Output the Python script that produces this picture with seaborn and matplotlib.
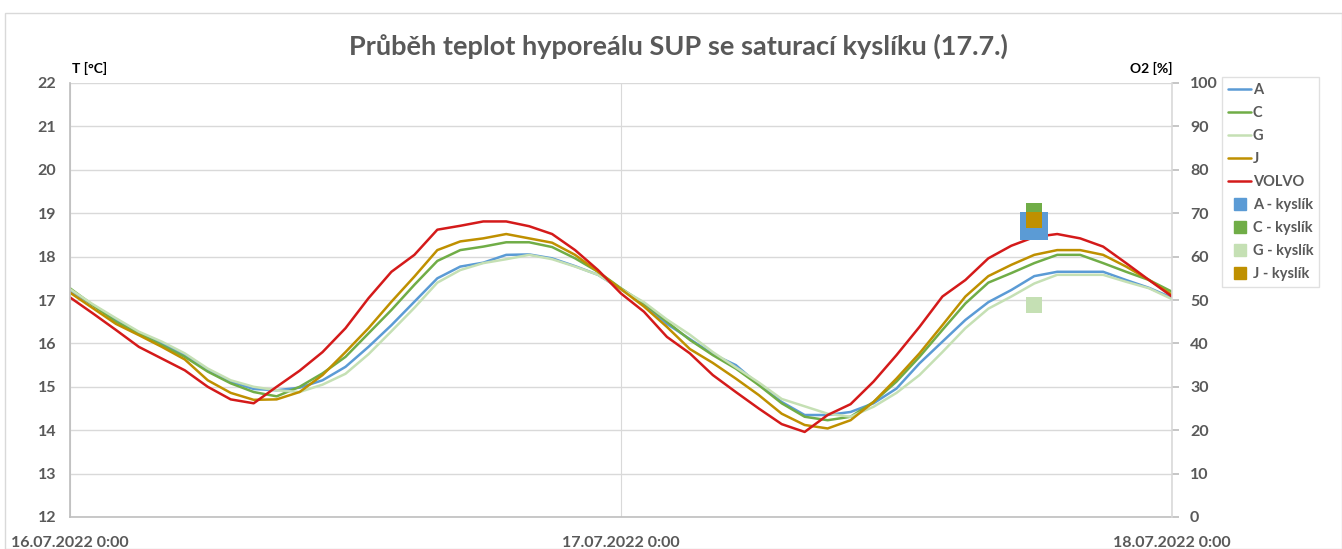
import numpy as np
import pandas as pd
import matplotlib
matplotlib.use("Agg")
import matplotlib.pyplot as plt
from matplotlib.lines import Line2D
from matplotlib.patches import Rectangle
import seaborn as sns

# ---------------- data ----------------
start = "2022-07-16 00:00"
n_hours = 49
series_names = ["A", "C", "G", "J", "VOLVO"]

temp_A = [17.22, 16.88, 16.55, 16.25, 16.0, 15.72, 15.38, 15.12, 14.95, 14.92, 14.98, 15.15,
          15.46, 15.92, 16.42, 16.96, 17.5, 17.77, 17.86, 18.04, 18.05, 17.96, 17.78, 17.58,
          17.25, 16.9, 16.45, 16.1, 15.75, 15.5, 15.05, 14.65, 14.35, 14.35, 14.42, 14.62,
          14.96, 15.54, 16.04, 16.54, 16.95, 17.23, 17.55, 17.65, 17.65, 17.65, 17.46, 17.28, 17.05]
temp_C = [17.27, 16.88, 16.5, 16.23, 15.96, 15.69, 15.35, 15.08, 14.88, 14.78, 15.0, 15.31,
          15.69, 16.23, 16.77, 17.35, 17.9, 18.15, 18.23, 18.33, 18.33, 18.22, 17.96, 17.65,
          17.27, 16.92, 16.5, 16.08, 15.73, 15.42, 15.04, 14.62, 14.31, 14.23, 14.31, 14.65,
          15.12, 15.69, 16.31, 16.92, 17.4, 17.62, 17.85, 18.04, 18.04, 17.85, 17.65, 17.46, 17.19]
temp_G = [17.25, 16.9, 16.58, 16.27, 16.04, 15.77, 15.42, 15.15, 15.0, 14.92, 14.88, 15.05,
          15.3, 15.75, 16.28, 16.82, 17.4, 17.69, 17.85, 17.94, 18.04, 17.94, 17.77, 17.58,
          17.25, 16.95, 16.55, 16.2, 15.8, 15.45, 15.1, 14.72, 14.55, 14.38, 14.31, 14.54,
          14.86, 15.27, 15.8, 16.35, 16.8, 17.08, 17.38, 17.58, 17.58, 17.58, 17.42, 17.27, 17.02]
temp_J = [17.17, 16.81, 16.45, 16.19, 15.92, 15.63, 15.15, 14.86, 14.7, 14.71, 14.88, 15.27,
          15.8, 16.35, 16.96, 17.54, 18.15, 18.35, 18.42, 18.52, 18.42, 18.32, 18.04, 17.65,
          17.25, 16.85, 16.38, 15.87, 15.55, 15.19, 14.81, 14.38, 14.12, 14.04, 14.23, 14.65,
          15.19, 15.77, 16.42, 17.08, 17.55, 17.81, 18.04, 18.15, 18.15, 18.04, 17.77, 17.46, 17.12]
temp_VOLVO = [17.06, 16.69, 16.31, 15.92, 15.65, 15.38, 15.0, 14.71, 14.62, 15.0, 15.37, 15.8,
              16.35, 17.04, 17.65, 18.04, 18.62, 18.71, 18.81, 18.81, 18.7, 18.52, 18.15, 17.69,
              17.15, 16.73, 16.15, 15.77, 15.27, 14.88, 14.5, 14.14, 13.96, 14.35, 14.6, 15.12,
              15.73, 16.38, 17.08, 17.46, 17.96, 18.25, 18.45, 18.52, 18.42, 18.23, 17.85, 17.46, 17.08]

o2_names = ["A - kyslík", "C - kyslík", "G - kyslík", "J - kyslík"]
o2_time = ["2022-07-17 18:00"] * 4
o2_values = [67.0, 70.5, 48.8, 68.5]

x_tick_dates = ["2022-07-16", "2022-07-17", "2022-07-18"]
x_tick_labels = ["16.07.2022 0:00", "17.07.2022 0:00", "18.07.2022 0:00"]
left_ticks = list(range(12, 23))
right_ticks = list(range(0, 101, 10))

title = "Průběh teplot hyporeálu SUP se saturací kyslíku (17.7.)"

colors = {"A": "#5B9BD5", "C": "#70AD47", "G": "#C5E0B4", "J": "#BF9000", "VOLVO": "#D41A1A"}
o2_colors = {"A - kyslík": "#5B9BD5", "C - kyslík": "#70AD47",
             "G - kyslík": "#C5E0B4", "J - kyslík": "#BF9000"}
o2_sizes = {"A - kyslík": 380, "C - kyslík": 120, "G - kyslík": 120, "J - kyslík": 120}

# ---------------- build frames ----------------
times = pd.date_range(start, periods=n_hours, freq="h")
temps = [temp_A, temp_C, temp_G, temp_J, temp_VOLVO]
df = pd.concat([pd.DataFrame({"time": times, "T": v, "series": s})
                for s, v in zip(series_names, temps)], ignore_index=True)
o2df = pd.DataFrame({"time": pd.to_datetime(o2_time), "O2": o2_values, "series": o2_names})

# ---------------- plot ----------------
sns.set_theme(style="white")
plt.rcParams["font.family"] = ["Lato", "DejaVu Sans"]
gray = "#595959"
gridc = "#D9D9D9"

fig = plt.figure(figsize=(13.42, 5.49), dpi=100)
ax = fig.add_axes([70 / 1342, 1 - 517 / 549, (1172 - 70) / 1342, (517 - 83) / 549])
ax2 = ax.twinx()

sns.lineplot(data=df, x="time", y="T", hue="series", hue_order=series_names,
             palette=colors, linewidth=1.8, ax=ax, legend=False)

for name in o2_names:
    sub = o2df[o2df["series"] == name]
    sns.scatterplot(data=sub, x="time", y="O2", color=o2_colors[name], marker="s",
                    s=o2_sizes[name], linewidth=0, ax=ax2, legend=False, zorder=3)

ax.set_ylim(12, 22)
ax2.set_ylim(0, 100)
ax.set_xlim(pd.Timestamp(x_tick_dates[0]), pd.Timestamp(x_tick_dates[-1]))
ax.set_yticks(left_ticks)
ax2.set_yticks(right_ticks)
ax.set_xticks([pd.Timestamp(d) for d in x_tick_dates])
ax.set_xticklabels(x_tick_labels)
ax.set_xlabel("")
ax.set_ylabel("")
ax2.set_ylabel("")

ax.grid(True, axis="y", color=gridc, linewidth=1.0)
ax.grid(True, axis="x", color=gridc, linewidth=0.8)
ax.set_axisbelow(True)

for a in (ax, ax2):
    a.spines["top"].set_visible(False)
ax.spines["right"].set_visible(False)
ax.spines["left"].set_color("#BFBFBF")
ax.spines["bottom"].set_color("#BFBFBF")
ax.spines["bottom"].set_linewidth(1.2)
ax2.spines["left"].set_visible(False)
ax2.spines["bottom"].set_visible(False)
ax2.spines["right"].set_color("#D9D9D9")
ax2.spines["right"].set_linewidth(1.2)

ax.tick_params(axis="y", length=0, labelsize=11.5, labelcolor=gray, pad=10)
ax.tick_params(axis="x", length=0, labelsize=11.5, labelcolor=gray, pad=14)
ax2.tick_params(axis="y", length=5, color="#BFBFBF", labelsize=11.5, labelcolor=gray, pad=8)
for lbl in ax.get_yticklabels() + ax.get_xticklabels() + ax2.get_yticklabels():
    lbl.set_fontweight("bold")

fig.text(678 / 1342, 1 - 46 / 549, title, ha="center", va="center",
         fontsize=19.5, fontweight="bold", color=gray)
fig.text(72 / 1342, 1 - 68 / 549, "T [°C]", ha="left", va="center",
         fontsize=10, fontweight="bold", color="black")
fig.text(1172 / 1342, 1 - 68 / 549, "O2 [%]", ha="right", va="center",
         fontsize=10, fontweight="bold", color="black")

# legend
handles = [Line2D([0], [0], color=colors[s], linewidth=1.8) for s in series_names]
handles += [Line2D([0], [0], color=o2_colors[n], marker="s", markersize=8, linestyle="None")
            for n in o2_names]
labels = series_names + o2_names
leg = fig.legend(handles, labels, loc="upper left",
                 bbox_to_anchor=(1222 / 1342, 1 - 77 / 549), frameon=True,
                 fontsize=10.5, handlelength=1.6, handletextpad=0.1, labelspacing=0.62,
                 borderpad=0.4, borderaxespad=0)
leg.get_frame().set_edgecolor("#D9D9D9")
leg.get_frame().set_linewidth(1.0)
leg.get_frame().set_boxstyle("square", pad=0)
for t in leg.get_texts():
    t.set_color(gray)
    t.set_fontweight("bold")

# outer chart border
fig.patches.append(Rectangle((5 / 1342, 0), 1 - 5 / 1342, 1 - 13 / 549,
                             transform=fig.transFigure, fill=False,
                             edgecolor="#D9D9D9", linewidth=1.0))

fig.savefig("out.png", dpi=100)
